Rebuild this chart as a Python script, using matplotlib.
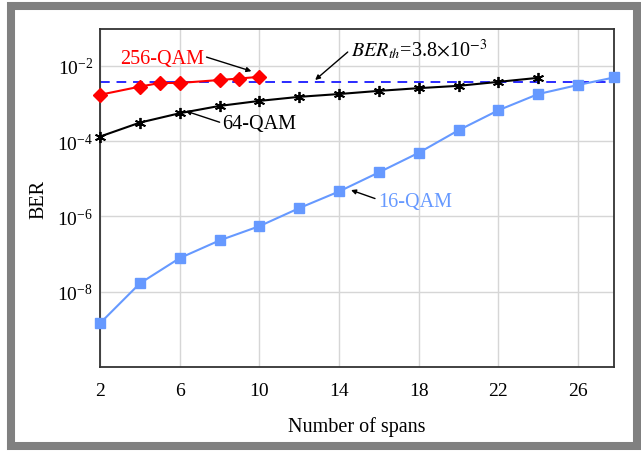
import matplotlib
matplotlib.use("Agg")
import matplotlib.pyplot as plt
from matplotlib.patches import Rectangle

# data
spans_16 = [2, 4, 6, 8, 10, 12, 14, 16, 18, 20, 22, 24, 26, 27.8]
ber_16 = [1.45e-9, 1.66e-8, 7.8e-8, 2.3e-7, 5.5e-7, 1.66e-6, 4.6e-6,
          1.48e-5, 4.9e-5, 1.95e-4, 6.6e-4, 1.78e-3, 3.1e-3, 4.9e-3]

spans_64 = [2, 4, 6, 8, 10, 12, 14, 16, 18, 20, 22, 24]
ber_64 = [1.32e-4, 3.1e-4, 5.5e-4, 8.6e-4, 1.17e-3, 1.5e-3, 1.78e-3,
          2.16e-3, 2.55e-3, 2.94e-3, 3.75e-3, 4.8e-3]

spans_256 = [2, 4, 5, 6, 8, 9, 10]
ber_256 = [1.7e-3, 2.8e-3, 3.5e-3, 3.5e-3, 4.2e-3, 4.6e-3, 5.1e-3]

ber_th = 3.8e-3
x_ticks = [2, 6, 10, 14, 18, 22, 26]
y_ticks = [1e-8, 1e-6, 1e-4, 1e-2]

plt.rcParams["font.family"] = ["Liberation Serif", "DejaVu Serif"]
plt.rcParams["mathtext.fontset"] = "stix"

W, H = 641, 452
fig = plt.figure(figsize=(W / 100, H / 100), dpi=100)

# gray frame around the picture
fig.patches.append(Rectangle((11 / W, 5 / H), 626 / W, 440 / H,
                             transform=fig.transFigure, fill=False,
                             edgecolor="#808080", linewidth=5.8))

ax = fig.add_axes([100 / W, 84 / H, 514 / W, 338 / H])

blue16 = "#6699ff"
ax.axhline(ber_th, color="#2a2aff", linestyle=(0, (5, 3.5)), linewidth=1.4, zorder=2)
ax.plot(spans_16, ber_16, color=blue16, marker="s", markersize=7.5,
        linewidth=1.5, clip_on=False, zorder=3)
ax.plot(spans_64, ber_64, color="black", marker=(6, 2, 0), markersize=8,
        markeredgewidth=1.3, linewidth=1.5, clip_on=False, zorder=4)
ax.plot(spans_256, ber_256, color="red", marker="D", markersize=7,
        linewidth=1.5, clip_on=False, zorder=5)

ax.set_yscale("log")
ax.set_xlim(2, 27.8)
ax.set_ylim(1e-10, 9.5e-2)
ax.set_xticks(x_ticks)
ax.set_yticks(y_ticks)
ax.minorticks_off()
ax.tick_params(length=0, labelsize=14)
ax.tick_params(axis="x", pad=11)
ax.tick_params(axis="y", pad=5)
ax.grid(True, color="#d6d6d6", linewidth=1)
ax.set_axisbelow(True)
for s in ax.spines.values():
    s.set_color("#333333")
    s.set_linewidth(1.3)

ax.set_xlabel("Number of spans", fontsize=14.5, labelpad=12)
ax.set_ylabel("BER", fontsize=14.5, labelpad=6)

arrow = dict(arrowstyle="-|>", color="black", linewidth=1, mutation_scale=7,
             shrinkA=0, shrinkB=0)
ax.annotate("256-QAM", xy=(9.6, 7.2e-3), xytext=(5.1, 1.6e-2),
            fontsize=14.5, color="red", ha="center", va="center",
            arrowprops=dict(arrow, relpos=(1.0, 0.6)))
ax.annotate("64-QAM", xy=(6.3, 6.3e-4), xytext=(10.0, 3.0e-4),
            fontsize=14.5, color="black", ha="center", va="center",
            arrowprops=dict(arrow, relpos=(0.0, 0.5)))
ax.annotate("16-QAM", xy=(14.6, 5.0e-6), xytext=(17.8, 2.5e-6),
            fontsize=14.5, color=blue16, ha="center", va="center",
            arrowprops=dict(arrow, relpos=(0.0, 0.6)))
ax.annotate(r"$\mathit{BER}_{\mathit{th}}$=3.8$\times$10$^{-3}$",
            xy=(12.8, 4.2e-3), xytext=(18.0, 2.9e-2),
            fontsize=14.5, color="black", ha="center", va="center",
            arrowprops=dict(arrow, relpos=(0.0, 0.45)))

fig.savefig("out.png", dpi=100)
